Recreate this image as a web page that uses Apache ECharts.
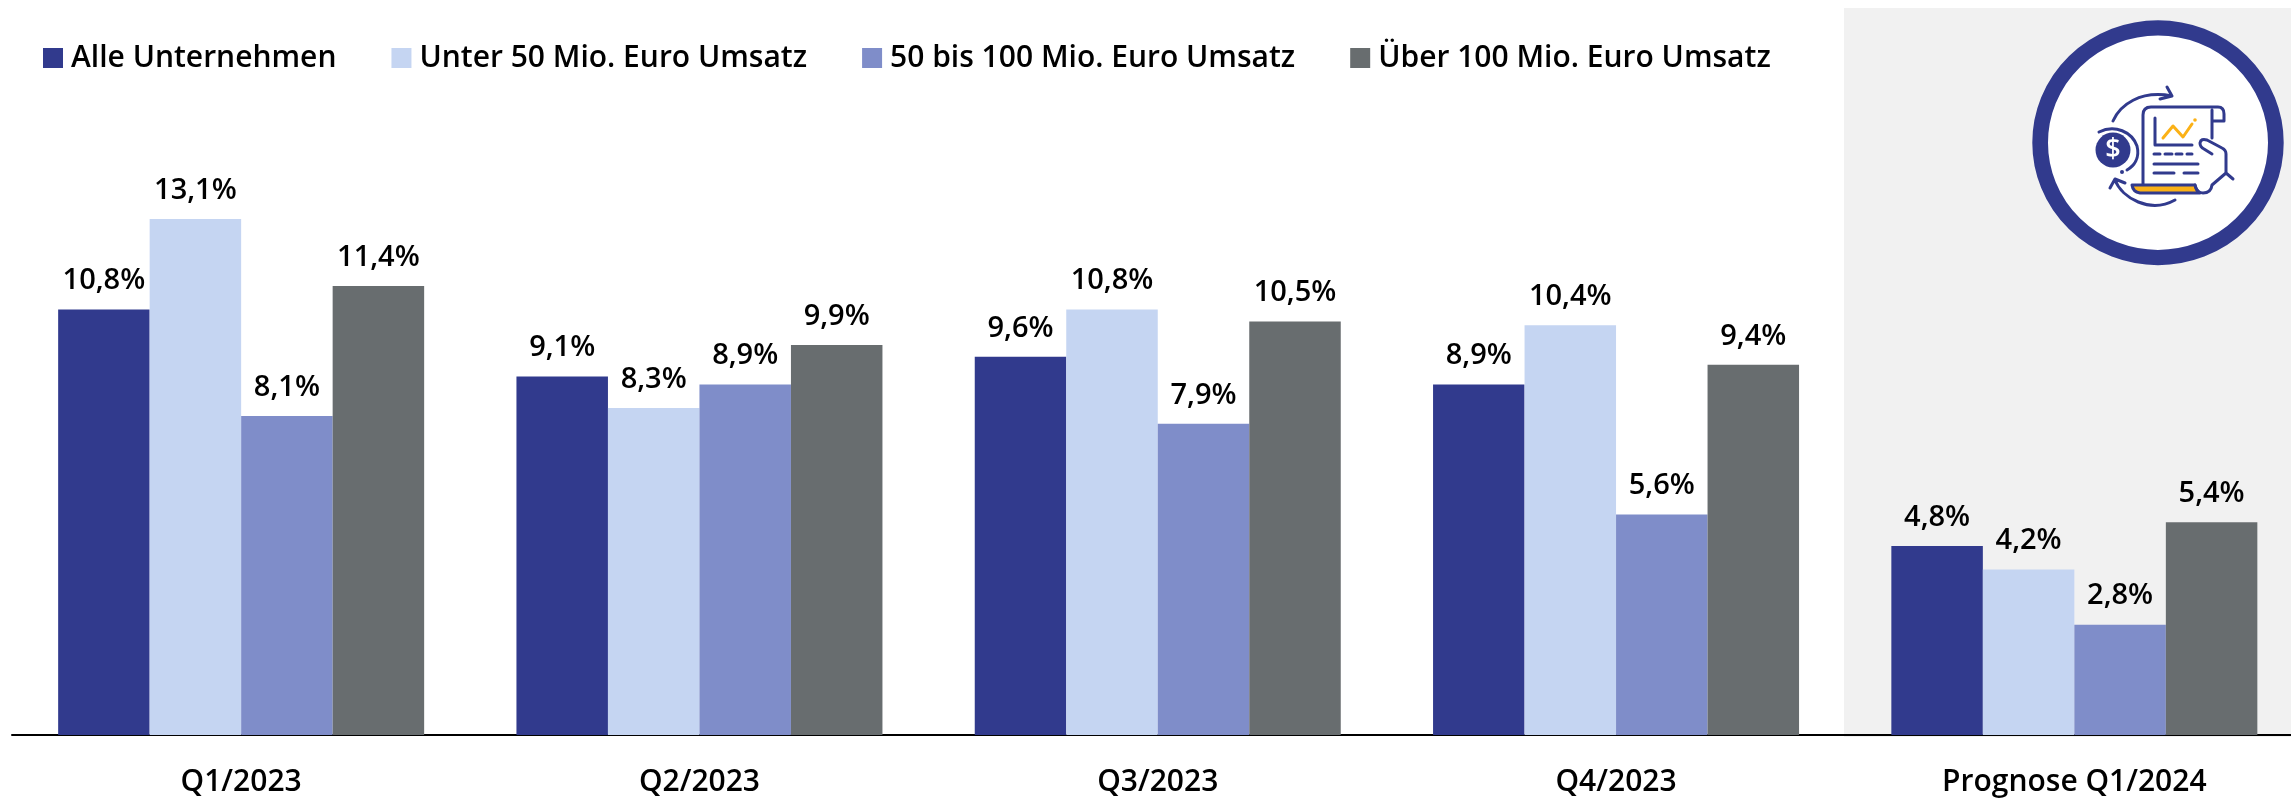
<!DOCTYPE html>
<html><head><meta charset="utf-8">
<style>html,body{margin:0;padding:0;background:#fff}#c{width:2291px;height:799px}</style>
<script src="https://cdn.jsdelivr.net/npm/echarts@6/dist/echarts.min.js"></script>
</head><body><div id="c"></div>
<script>
const categories = ['Q1/2023','Q2/2023','Q3/2023','Q4/2023','Prognose Q1/2024'];
const seriesNames = ['Alle Unternehmen','Unter 50 Mio. Euro Umsatz','50 bis 100 Mio. Euro Umsatz','Über 100 Mio. Euro Umsatz'];
const alle = [10.8,9.1,9.6,8.9,4.8];
const unter50 = [13.1,8.3,10.8,10.4,4.2];
const mittel = [8.1,8.9,7.9,5.6,2.8];
const ueber100 = [11.4,9.9,10.5,9.4,5.4];
const colors = ['#313A8D','#C5D5F2','#7F8DC9','#686D6F'];
const font = '"Open Sans"';
const values = [alle,unter50,mittel,ueber100];
const navy = '#313A8D', amber = '#FBB116';
let shapeCount = 0;
function pathEl(d, style){
  const name = 'iconPath' + (shapeCount++);
  echarts.graphic.registerShape(name, echarts.graphic.extendPath(d));
  return {type:name, z:102, style:style};
}
const line = {fill:'none',stroke:navy,lineWidth:3,lineCap:'round',lineJoin:'round'};
const stroke = d => pathEl(d, line);
const chart = echarts.init(document.getElementById('c'));
chart.setOption({
  animation:false,
  textStyle:{fontFamily:font},
  grid:{left:12,top:26,width:2291.5,height:709,outerBoundsMode:'none'},
  legend:{left:38,top:38,itemWidth:20,itemHeight:20,itemGap:55,icon:'rect',
    data:seriesNames,
    textStyle:{fontFamily:font,fontSize:30,fontWeight:600,color:'#000',padding:[0,0,0,3]}},
  xAxis:{type:'category',data:categories,
    axisLine:{lineStyle:{color:'#000',width:2}},axisTick:{show:false},
    axisLabel:{fontFamily:font,fontSize:30,fontWeight:600,color:'#000',margin:32}},
  yAxis:{type:'value',min:0,max:18,show:false},
  graphic:[
    {type:'rect',z:-10,shape:{x:1844,y:8,width:447,height:729},style:{fill:'#F1F1F1'}},
    {type:'circle',z:100,originX:2158,originY:142.7,scaleY:0.9745,shape:{cx:2158,cy:142.7,r:117.85},style:{fill:'#fff',stroke:navy,lineWidth:15.7}},
    stroke('M2113 121 C2120 105 2140 90 2172 96 M2167 87 L2172 96 L2160 99'),
    stroke('M2099 132 C2115 124 2132 132 2137 146 C2140 158 2134 166 2127 170'),
    {type:'circle',z:102,shape:{cx:2113,cy:150,r:17.5},style:{fill:navy}},
    {type:'circle',z:102,shape:{cx:2122,cy:172,r:2},style:{fill:navy}},
    {type:'text',z:103,style:{x:2113,y:150,text:'$',fill:'#fff',fontFamily:font,fontSize:27,fontWeight:600,align:'center',verticalAlign:'middle'}},
    stroke('M2143 185 V115 Q2143 107 2151 107 H2218 Q2224 107 2224 114 V121 H2212 M2212 110 V138'),
    stroke('M2155 118 V145 H2192'),
    pathEl('M2163 138 L2173 126 L2183 137 L2192 124', {fill:'none',stroke:amber,lineWidth:3,lineCap:'round',lineJoin:'round'}),
    {type:'circle',z:102,shape:{cx:2195,cy:120,r:1.8},style:{fill:amber}},
    stroke('M2154 154 H2160 M2165 154 H2172 M2176 154 H2182 M2187 154 H2192'),
    stroke('M2154 164 H2198 M2154 173 H2174 M2184 173 H2198'),
    pathEl('M2132 185 H2195 Q2196 191 2200 193 H2140 Q2133 192 2132 185 Z', {fill:amber,stroke:navy,lineWidth:3,lineJoin:'round'}),
    stroke('M2195 185 Q2197 193 2203 193 Q2211 193 2212 185 L2226 173 L2233 179 M2226 173 V154 Q2226 150 2222 148 L2207 140 Q2201 138 2200 143 Q2200 147 2204 149 L2212 154'),
    stroke('M2110 188 L2115 179 L2125 183 M2115 180 C2122 198 2150 214 2175 200')
  ],
  series: seriesNames.map((name,i)=>({
    name,type:'bar',data:values[i],barWidth:91.5,barGap:0,z:5,
    itemStyle:{color:colors[i]},
    label:{show:true,position:'top',distance:14,fontFamily:font,fontSize:29,fontWeight:600,color:'#000',
      formatter:p=>String(p.value.toFixed(1)).replace('.',',')+'%'}
  }))
});
</script></body></html>
